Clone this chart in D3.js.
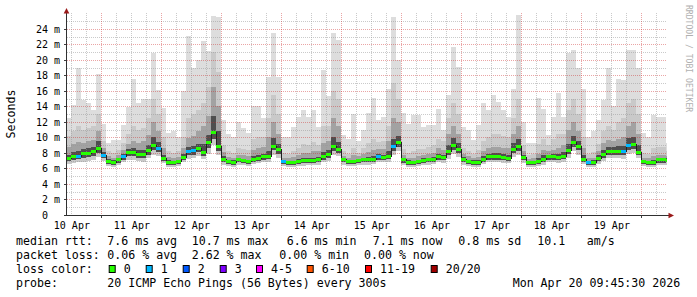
<!DOCTYPE html>
<html>
<head>
<meta charset="utf-8">
<script src="https://cdn.jsdelivr.net/npm/d3@7"></script>
<style>
  html, body { margin: 0; padding: 0; background: #fff; }
  svg { display: block; }
  text { font-family: "DejaVu Sans Mono", monospace; fill: #000; }
</style>
</head>
<body>
<svg id="chart" width="697" height="297"></svg>
<script>
// smokeping graph, 10 days, 2h buckets starting Apr 10 10:00 UTC
const W = 697, H = 297;
const X0 = 67, X1 = 667, Y0 = 215, Y1 = 13;

const START = Date.UTC(2026, 3, 10, 10, 0);
const STEP = 2 * 3600 * 1000;

// median rtt (ms)
const median = [
  7.25,7.5,7.6,7.9,7.9,8.2,8.6,
  7.7,6.9,6.8,7.1,7.5,8.0,8.0,7.8,7.75,8.3,9.0,8.6,
  7.3,6.8,6.75,6.85,7.4,8.2,8.3,8.6,8.1,9.3,10.7,8.8,
  7.2,6.9,6.8,7.1,7.0,6.9,7.2,7.3,7.5,7.6,8.9,8.4,
  6.9,6.75,6.75,6.9,7.0,7.0,7.0,7.1,7.5,7.8,8.8,8.5,
  7.1,6.9,6.9,7.0,7.1,7.1,7.2,7.5,7.4,7.6,8.8,9.3,
  7.1,6.8,6.75,6.9,7.0,7.1,7.2,7.5,7.4,8.2,9.0,8.5,
  7.1,6.9,6.8,6.8,7.2,7.5,7.5,7.5,7.45,7.35,8.5,8.8,
  7.4,6.75,6.75,6.9,7.2,7.5,7.5,7.45,7.6,8.3,9.3,8.9,
  7.2,6.8,6.8,7.3,7.8,8.2,8.25,8.25,8.2,9.0,9.1,8.1,
  6.9,6.8,6.8,7.1,7.1,7.05
];
// lost pings out of 20
const loss = [
  0,0,1,0,0,0,0,
  1,0,0,0,1,0,0,0,0,0,0,1,
  0,0,0,0,0,1,1,0,0,0,0,0,
  0,0,0,0,0,0,0,0,0,0,0,0,
  1,0,0,0,0,0,0,0,0,0,0,0,
  0,0,0,0,0,0,0,1,0,0,1,0,
  0,0,0,0,0,0,0,0,0,0,0,0,
  0,0,0,0,0,0,0,0,0,0,0,0,
  0,0,0,0,0,0,0,0,0,0,0,0,
  0,1,0,0,0,0,0,0,1,1,0,0,
  0,0,0,0,0,0
];
// smoke: sorted ping quantiles (ms)
const pLo = [
  6.6,6.7,6.8,6.9,7.0,7.1,7.5,
  7.0,6.3,6.2,6.4,6.8,7.1,7.1,7.0,6.9,7.3,7.8,7.6,
  6.7,6.2,6.2,6.3,6.8,7.2,7.3,7.6,7.2,7.9,9.0,7.8,
  6.5,6.3,6.2,6.5,6.4,6.3,6.6,6.7,6.8,6.9,7.8,7.4,
  6.3,6.2,6.2,6.3,6.3,6.4,6.4,6.5,6.8,7.0,7.8,7.6,
  6.5,6.3,6.3,6.4,6.5,6.5,6.6,6.8,6.8,6.9,7.8,8.2,
  6.4,6.2,6.2,6.3,6.4,6.5,6.6,6.8,6.7,7.2,7.9,7.5,
  6.5,6.3,6.2,6.2,6.6,6.8,6.8,6.8,6.7,6.7,7.5,7.8,
  6.7,6.2,6.2,6.3,6.5,6.8,6.8,6.7,6.9,7.4,8.2,7.8,
  6.6,6.2,6.2,6.6,7.0,7.3,7.3,7.3,7.2,7.9,8.0,7.3,
  6.3,6.2,6.2,6.4,6.4,6.5
];
const pLow2 = [
  6.95,7.1,7.2,7.4,7.45,7.65,8.05,
  7.35,6.6,6.5,6.75,7.15,7.55,7.55,7.4,7.3,7.8,8.4,8.1,
  7.0,6.5,6.45,6.55,7.1,7.7,7.8,8.1,7.65,8.6,9.85,8.3,
  6.85,6.6,6.5,6.8,6.7,6.6,6.9,7.0,7.15,7.25,8.35,7.9,
  6.6,6.45,6.45,6.6,6.65,6.7,6.7,6.8,7.15,7.4,8.3,8.05,
  6.8,6.6,6.6,6.7,6.8,6.8,6.9,7.15,7.1,7.25,8.3,8.75,
  6.75,6.5,6.45,6.6,6.7,6.8,6.9,7.15,7.05,7.7,8.45,8.0,
  6.8,6.6,6.5,6.5,6.9,7.15,7.15,7.15,7.1,7.0,8.0,8.3,
  7.05,6.45,6.45,6.6,6.85,7.15,7.15,7.1,7.25,7.85,8.75,8.35,
  6.9,6.5,6.5,6.95,7.4,7.75,7.75,7.75,7.7,8.45,8.55,7.7,
  6.6,6.5,6.5,6.75,6.75,6.8
];
const p12 = [
  7.8,8.1,8.3,8.5,8.6,8.8,9.5,
  8.1,7.2,7.05,7.4,7.9,8.5,8.6,8.4,8.4,9.0,10.0,9.4,
  7.8,7.1,7.0,7.1,7.9,8.8,8.9,9.2,9.2,10.3,12.8,10.8,
  7.6,7.15,7.05,7.35,7.25,7.15,7.55,7.7,7.9,8.3,9.9,9.1,
  7.1,6.95,7.0,7.2,7.3,7.35,7.4,7.5,8.1,8.4,10.0,9.4,
  7.3,7.1,7.15,7.25,7.35,7.45,7.6,7.9,7.8,8.2,9.8,10.2,
  7.4,7.05,7.0,7.15,7.3,7.4,7.5,7.9,7.8,9.0,9.9,9.3,
  7.45,7.15,7.05,7.1,7.6,7.9,8.0,8.0,7.9,7.8,9.3,9.8,
  7.8,6.95,7.0,7.3,7.7,7.8,7.9,7.9,8.1,9.2,10.2,9.6,
  7.8,7.0,7.05,7.7,8.4,8.8,8.8,8.9,8.9,9.9,10.0,9.0,
  7.1,7.0,7.1,7.4,7.4,7.3
];
const p15 = [
  8.8,9.2,9.4,9.3,9.5,9.7,10.8,
  8.7,7.6,7.4,7.8,8.4,9.1,9.5,9.3,9.5,10.3,12.0,10.8,
  8.6,7.5,7.3,7.5,8.6,9.9,10.2,10.8,11.5,12.8,16.5,14.0,
  8.1,7.5,7.4,7.8,7.7,7.6,8.4,8.6,8.8,10.0,12.0,10.5,
  7.4,7.3,7.5,7.7,8.0,8.0,8.2,8.3,9.3,9.6,12.5,11.5,
  7.6,7.4,7.7,7.6,7.9,8.1,8.4,8.5,8.5,9.5,12.5,12.0,
  7.8,7.4,7.4,7.6,7.8,7.9,8.0,8.6,8.4,10.5,11.5,10.5,
  7.9,7.6,7.3,7.5,8.3,8.6,8.8,8.8,8.6,8.6,10.5,11.5,
  8.3,7.2,7.3,7.9,8.4,8.2,8.4,8.7,9.0,11.0,12.0,10.8,
  8.6,7.3,7.4,8.2,9.3,9.7,9.5,9.8,10.0,11.5,12.0,10.5,
  7.4,7.3,7.6,7.8,7.8,7.6
];
const p18 = [
  10.2,10.8,11.5,11.0,11.2,11.5,13.0,
  9.6,8.3,8.0,8.4,9.3,10.5,11.5,11.0,11.2,12.5,15.0,13.0,
  10.0,8.3,8.0,8.2,10.0,12.5,13.0,13.5,14.5,16.5,21.0,18.5,
  9.0,8.2,8.0,8.6,8.5,8.4,9.8,10.0,10.0,12.5,15.5,13.0,
  8.0,7.9,8.3,8.7,9.2,9.0,9.4,9.0,11.5,11.5,16.0,15.0,
  8.2,7.9,8.6,8.0,8.6,9.3,9.8,9.4,9.6,11.5,17.0,15.0,
  8.5,8.0,8.3,8.5,8.5,8.8,9.0,9.8,9.5,12.5,14.5,13.0,
  8.6,8.2,7.9,8.4,9.6,10.0,10.5,10.5,10.2,10.0,12.5,15.0,
  9.0,7.8,7.9,9.2,9.8,9.0,9.8,10.5,10.5,13.5,15.0,13.0,
  10.0,7.9,8.1,9.2,10.8,11.5,11.0,12.0,12.5,14.5,15.0,13.0,
  8.0,7.9,8.6,8.8,8.8,8.2
];
const pHi = [
  12.5,14.2,19.0,14.8,14.4,13.5,18.2,
  11.8,9.3,9.7,9.7,11.6,13.9,17.6,14.4,15.0,15.0,20.9,16.1,
  13.8,10.6,10.8,10.0,16.0,23.1,19.0,20.0,22.5,21.2,25.7,25.5,
  12.3,10.5,10.0,12.0,11.2,10.6,14.0,14.0,12.5,17.8,23.5,17.8,
  10.0,10.0,11.4,12.7,13.5,12.7,13.5,11.4,18.7,15.3,23.5,22.6,
  10.3,9.8,13.0,9.5,11.0,13.1,15.1,12.3,12.7,16.3,25.6,20.0,
  13.1,11.8,12.9,12.9,11.4,11.6,11.6,13.7,11.0,15.5,21.7,19.1,
  11.4,11.0,9.7,11.6,14.4,13.5,15.5,14.6,13.5,12.7,16.3,25.8,
  12.0,9.3,9.3,15.1,13.7,10.3,12.7,15.7,12.7,20.9,21.3,19.0,
  16.3,10.0,10.8,12.3,14.8,19.0,14.0,17.6,17.4,21.3,21.3,19.0,
  10.6,10.0,12.9,12.7,12.7,9.3
];

const yTicks = [0, 2, 4, 6, 8, 10, 12, 14, 16, 18, 20, 22, 24];
const dayLabels = ['10 Apr','11 Apr','12 Apr','13 Apr','14 Apr','15 Apr','16 Apr','17 Apr','18 Apr','19 Apr'];
const lossLabels = ['0', '1', '2', '3', '4-5', '6-10', '11-19', '20/20'];
const lossColors = ['#26ff00', '#00b8ff', '#0059ff', '#7e00ff', '#ff00ff', '#ff5500', '#ff0000', '#a00000'];
const lossTop = [0, 1, 2, 3, 5, 10, 19, 20];

const svg = d3.select('#chart');
const x = d3.scaleUtc()
  .domain([Date.UTC(2026, 3, 10, 10, 15), Date.UTC(2026, 3, 20, 10, 15)])
  .range([X0, X1]);
const y = d3.scaleLinear().domain([0, 26.06]).range([Y0, Y1]);

const tAt = i => new Date(START + i * STEP);
const n = median.length;
const idx = d3.range(n + 1);
const at = (arr, i) => arr[Math.min(i, arr.length - 1)];

svg.append('defs').append('clipPath').attr('id', 'plot')
  .append('rect').attr('x', X0).attr('y', Y1).attr('width', X1 - X0).attr('height', Y0 - Y1);

// smoke, outer band first
const smokeG = svg.append('g').attr('clip-path', 'url(#plot)').attr('shape-rendering', 'crispEdges');
const bands = [
  [pLo, pHi, '#dddddd'],
  [pLo, p18, '#c9c9c9'],
  [pLow2, p15, '#a2a2a2'],
  [pLow2, p12, '#4e4e4e']
];
bands.forEach(([lower, upper, col]) => {
  const area = d3.area().curve(d3.curveStepAfter)
    .x(i => x(tAt(i)))
    .y0(i => y(at(lower, i)))
    .y1(i => y(at(upper, i)));
  smokeG.append('path').datum(idx).attr('d', area).attr('fill', col);
});

// grid
const gridG = svg.append('g').attr('shape-rendering', 'crispEdges').attr('stroke-dasharray', '1,1');
const minorY = d3.range(1, 26, 2);
gridG.selectAll('line.hmin').data(minorY).join('line')
  .attr('x1', X0).attr('x2', X1)
  .attr('y1', d => Math.round(y(d)) + 0.5).attr('y2', d => Math.round(y(d)) + 0.5)
  .attr('stroke', 'rgba(150,150,150,0.5)');
gridG.selectAll('line.hmaj').data(yTicks.filter(d => d > 0)).join('line')
  .attr('x1', X0).attr('x2', X1)
  .attr('y1', d => Math.round(y(d)) + 0.5).attr('y2', d => Math.round(y(d)) + 0.5)
  .attr('stroke', 'rgba(205,40,40,0.42)');
const [d0, d1] = x.domain();
const days = d3.utcDay.range(d0, d1);
const sixH = d3.utcHour.every(6).range(d0, d1).filter(d => d.getUTCHours() !== 0);
gridG.selectAll('line.vmin').data(sixH).join('line')
  .attr('x1', d => Math.round(x(d)) + 0.5).attr('x2', d => Math.round(x(d)) + 0.5)
  .attr('y1', Y1).attr('y2', Y0)
  .attr('stroke', 'rgba(150,150,150,0.5)');
gridG.selectAll('line.vmaj').data(days).join('line')
  .attr('x1', d => Math.round(x(d)) + 0.5).attr('x2', d => Math.round(x(d)) + 0.5)
  .attr('y1', Y1).attr('y2', Y0)
  .attr('stroke', 'rgba(205,40,40,0.42)');

// median line with loss colour
const lossIndex = l => lossTop.findIndex(t => l <= t);
const medG = svg.append('g').attr('clip-path', 'url(#plot)').attr('shape-rendering', 'crispEdges');
const medLine = d3.line().curve(d3.curveStepAfter)
  .x(i => x(tAt(i))).y(i => y(at(median, i)));
medG.append('path').datum(idx).attr('d', medLine)
  .attr('fill', 'none').attr('stroke', '#202020').attr('stroke-width', 1);
medG.selectAll('rect').data(median).join('rect')
  .attr('x', (d, i) => x(tAt(i)))
  .attr('width', (d, i) => x(tAt(i + 1)) - x(tAt(i)))
  .attr('y', d => y(d) - 1.5)
  .attr('height', 3)
  .attr('fill', (d, i) => lossColors[lossIndex(loss[i])]);

// axes
const yAxis = d3.axisLeft(y).tickValues(yTicks).tickSize(3).tickPadding(4)
  .tickFormat(d => d === 0 ? '0' : d + ' m');
const yg = svg.append('g').attr('transform', `translate(${X0},0)`).call(yAxis);
yg.select('.domain').remove();
yg.selectAll('.tick line').attr('stroke', '#404040').attr('shape-rendering', 'crispEdges');
yg.selectAll('.tick text').attr('font-size', '10px').attr('font-family', '"DejaVu Sans Mono", monospace')
  .attr('fill', '#000')
  .attr('x', d => d === 0 ? -19 : -7);

const noon = dayLabels.map((_, i) => new Date(Date.UTC(2026, 3, 10 + i, 12)));
const xAxis = d3.axisBottom(x).tickValues(noon).tickSize(0).tickPadding(6.5)
  .tickFormat((d, i) => dayLabels[i]);
const xg = svg.append('g').attr('transform', `translate(0,${Y0})`).call(xAxis);
xg.select('.domain').remove();
xg.selectAll('.tick text').attr('font-size', '10px').attr('font-family', '"DejaVu Sans Mono", monospace').attr('fill', '#000');

svg.append('g').attr('shape-rendering', 'crispEdges').selectAll('line').data(days).join('line')
  .attr('x1', d => Math.round(x(d)) + 0.5).attr('x2', d => Math.round(x(d)) + 0.5)
  .attr('y1', Y0).attr('y2', Y0 + 3).attr('stroke', '#404040');

svg.append('line').attr('x1', X0 - 0.5).attr('x2', X0 - 0.5).attr('y1', Y0 + 0.5).attr('y2', 11)
  .attr('stroke', '#303030').attr('shape-rendering', 'crispEdges');
svg.append('line').attr('x1', X0 - 3).attr('x2', 670).attr('y1', Y0 + 0.5).attr('y2', Y0 + 0.5)
  .attr('stroke', '#303030').attr('shape-rendering', 'crispEdges');
svg.append('path').attr('d', `M${X0 - 0.5},8 L${X0 - 3.3},13.5 L${X0 + 2.3},13.5 Z`).attr('fill', '#9a1a1a');
svg.append('path').attr('d', `M674,${Y0 + 0.5} L668.5,${Y0 - 2.3} L668.5,${Y0 + 3.3} Z`).attr('fill', '#9a1a1a');

// titles
svg.append('text').attr('transform', `translate(11,${(Y0 + Y1) / 2}) rotate(-90)`)
  .attr('text-anchor', 'middle').attr('dominant-baseline', 'central')
  .attr('font-size', '11.6px').text('Seconds');
svg.append('text').attr('transform', 'translate(685.5,5) rotate(90)')
  .attr('font-size', '8.1px').style('fill', '#b0b0b0').text('RRDTOOL / TOBI OETIKER');

// legend
const legend = [
  [245, [[16, 'median rtt:'], [107.3, '7.6 ms avg'], [191.7, '10.7 ms max'], [286.7, '6.6 ms min'],
         [372.7, '7.1 ms now'], [458.3, '0.8 ms sd'], [537.3, '10.1'], [586.7, 'am/s']]],
  [258.9, [[16, 'packet loss:'], [107.3, '0.06 % avg'], [191.7, '2.62 % max'], [279.3, '0.00 % min'],
           [364, '0.00 % now']]],
  [272.8, [[16, 'loss color:']]],
  [286.7, [[16, 'probe:'], [107.3, '20 ICMP Echo Pings (56 Bytes) every 300s'], [512.7, 'Mon Apr 20 09:45:30 2026']]]
];
legend.forEach(([by, items]) => {
  items.forEach(([lx, s]) => {
    svg.append('text').attr('x', lx).attr('y', by).attr('font-size', '11.6px').text(s);
  });
});
const boxX = [108.7, 145.7, 182.7, 219.7, 256, 306.7, 365, 430.7];
lossLabels.forEach((lab, i) => {
  svg.append('rect').attr('x', boxX[i] + 0.5).attr('y', 265.5).attr('width', 6).attr('height', 7)
    .attr('fill', lossColors[i]).attr('stroke', '#000').attr('stroke-width', 1);
  svg.append('text').attr('x', boxX[i] + 15).attr('y', 272.8).attr('font-size', '11.6px').text(lab);
});
</script>
</body>
</html>
